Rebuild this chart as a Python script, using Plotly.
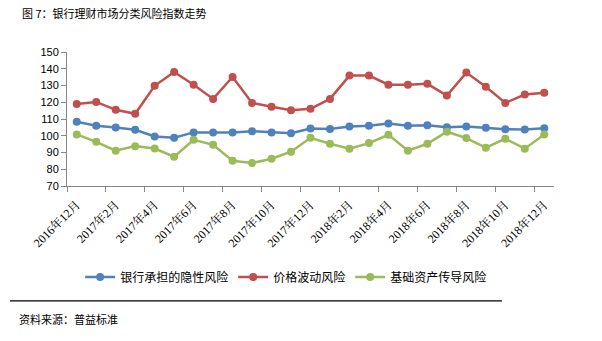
import plotly.graph_objects as go

categories = ["2016年12月", "2017年1月", "2017年2月", "2017年3月", "2017年4月", "2017年5月",
              "2017年6月", "2017年7月", "2017年8月", "2017年9月", "2017年10月", "2017年11月",
              "2017年12月", "2018年1月", "2018年2月", "2018年3月", "2018年4月", "2018年5月",
              "2018年6月", "2018年7月", "2018年8月", "2018年9月", "2018年10月", "2018年11月",
              "2018年12月"]

bank_risk = [108.3, 106.0, 104.9, 103.6, 99.6, 98.8, 102.0, 102.0, 102.0, 102.7, 102.0, 101.5,
             104.3, 104.1, 105.5, 106.0, 107.3, 106.0, 106.3, 105.1, 105.5, 104.8, 103.9, 103.8, 104.5]
price_risk = [119.0, 120.2, 115.5, 113.1, 129.8, 138.1, 130.4, 122.0, 135.1, 119.6, 117.3, 115.2,
              116.1, 122.0, 135.9, 135.9, 130.5, 130.5, 131.0, 124.0, 137.7, 129.3, 119.6, 124.6, 125.6]
asset_risk = [100.8, 96.4, 91.1, 93.8, 92.4, 87.5, 97.6, 94.6, 85.1, 83.7, 86.3, 90.5,
              98.8, 95.2, 92.3, 95.6, 100.6, 91.1, 95.2, 102.4, 98.6, 92.9, 98.2, 92.3, 100.8]

series_names = ["银行承担的隐性风险", "价格波动风险", "基础资产传导风险"]
series_colors = ["#4F81BD", "#C0504D", "#9BBB59"]

fig = go.Figure()
for name, vals, col in zip(series_names, [bank_risk, price_risk, asset_risk], series_colors):
    fig.add_trace(go.Scatter(
        x=categories, y=vals, name=name, mode="lines+markers",
        line=dict(color=col, width=2.5),
        marker=dict(color=col, size=8),
    ))

L, R, T, B = 67, 48, 52, 155
fig.update_layout(
    width=602, height=341,
    margin=dict(l=L, r=R, t=T, b=B, pad=0),
    paper_bgcolor="white", plot_bgcolor="white",
    showlegend=True,
    legend=dict(orientation="h", x=0.45, xanchor="center", y=-0.679, yanchor="middle",
                font=dict(family="Noto Sans CJK SC", size=12, color="#000000"),
                itemwidth=30, tracegroupgap=0, bgcolor="rgba(0,0,0,0)"),
    font=dict(family="Noto Sans CJK SC", color="#000000"),
)

fig.update_xaxes(
    type="category", tickmode="linear", dtick=2, tick0=0,
    tickson="boundaries", ticks="outside", ticklen=5, tickcolor="#868686",
    showline=True, linecolor="#868686", linewidth=1, showgrid=False, zeroline=False,
    tickangle=-45, range=[-0.5, 24.5], ticklabelstandoff=6,
    tickfont=dict(family="Liberation Serif, Noto Serif CJK SC, Noto Sans CJK SC", size=12, color="#000000"),
)
fig.update_yaxes(
    range=[70, 150], dtick=10, tick0=70, ticks="outside", ticklen=5, tickcolor="#868686",
    showline=True, linecolor="#868686", linewidth=1, showgrid=False, zeroline=False,
    tickfont=dict(family="Liberation Sans", size=11, color="#000000"),
)

fig.add_annotation(text="图 7：银行理财市场分类风险指数走势", xref="paper", yref="paper",
                   x=-0.0965, y=1.291, xanchor="left", yanchor="middle", showarrow=False,
                   font=dict(family="Noto Sans CJK SC", size=11, color="#000000"))
fig.add_annotation(text="资料来源：普益标准", xref="paper", yref="paper",
                   x=-0.103, y=-0.993, xanchor="left", yanchor="middle", showarrow=False,
                   font=dict(family="Noto Sans CJK SC", size=11, color="#000000"))
fig.add_shape(type="line", xref="paper", yref="paper", x0=-0.117, x1=0.893, y0=-0.858, y1=-0.858,
              line=dict(color="#000000", width=1.2))

fig.write_html("out.html")
